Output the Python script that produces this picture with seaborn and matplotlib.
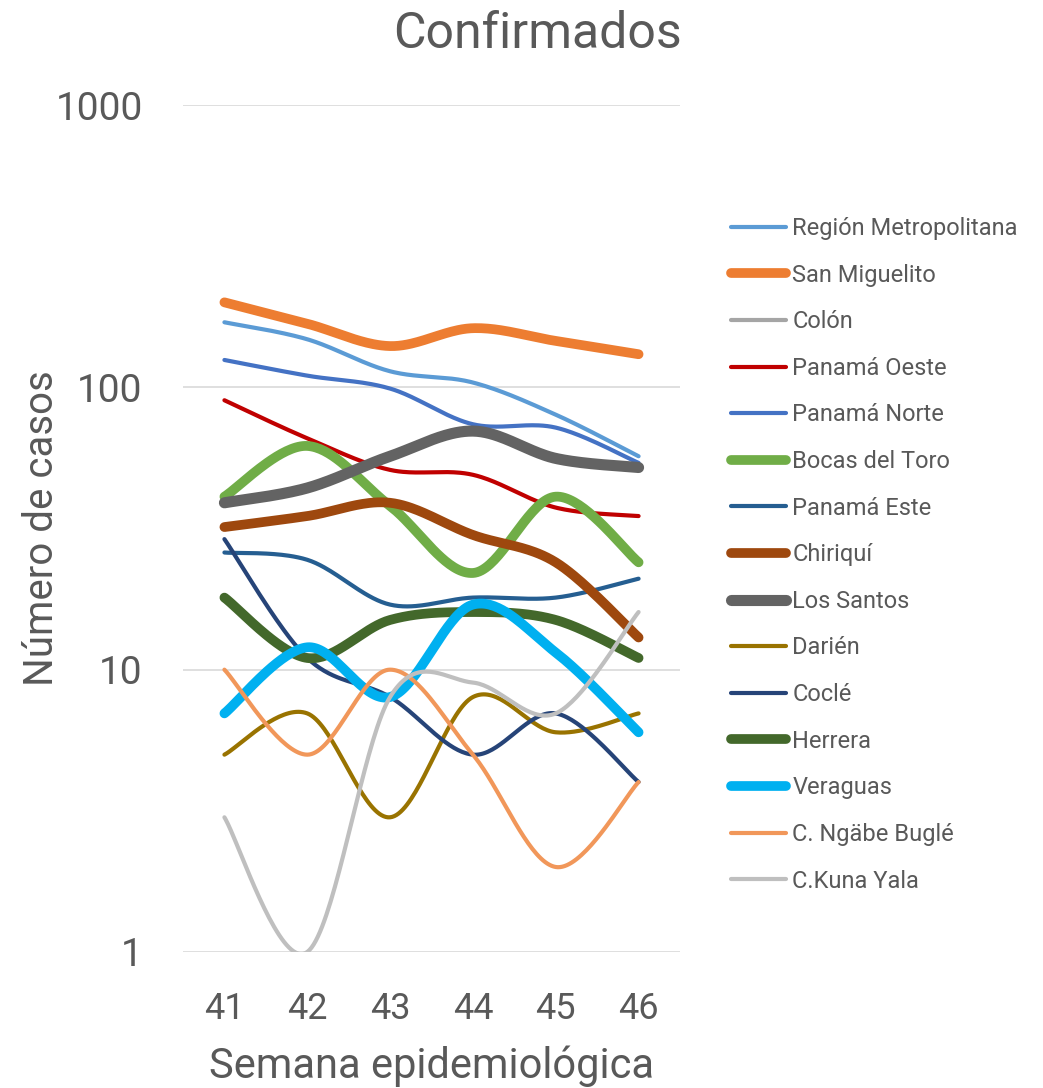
import numpy as np
import pandas as pd
import matplotlib
matplotlib.use("Agg")
import matplotlib.pyplot as plt
from matplotlib.lines import Line2D
import seaborn as sns

# ---------------- data ----------------
weeks = [41, 42, 43, 44, 45, 46]
series_names = ["Región Metropolitana", "San Miguelito", "Colón", "Panamá Oeste",
                "Panamá Norte", "Bocas del Toro", "Panamá Este", "Chiriquí",
                "Los Santos", "Darién", "Coclé", "Herrera", "Veraguas",
                "C. Ngäbe Buglé", "C.Kuna Yala"]
region_metropolitana = [170, 148, 114, 104, 80, 57]
san_miguelito = [200, 168, 140, 162, 146, 131]
colon = [np.nan, np.nan, np.nan, np.nan, np.nan, np.nan]
panama_oeste = [90, 66, 51, 49, 37.5, 35]
panama_norte = [125, 110, 99, 74, 72, 54]
bocas_del_toro = [41, 62, 38, 22, 41, 24]
panama_este = [26, 24.5, 17, 18, 18, 21]
chiriqui = [32, 35, 39, 30, 24, 13]
los_santos = [39, 44, 57, 70, 56, 52]
darien = [5, 7, 3, 8, 6, 7]
cocle = [29, 11, 8, 5, 7, 4]
herrera = [18, 11, 15, 16, 15, 11]
veraguas = [7, 12, 8, 17, 11.5, 6]
ngabe_bugle = [10, 5, 10, 5, 2, 4]
kuna_yala = [3, 1, 8, 9, 7, 16]
y_ticks = [1, 10, 100, 1000]
y_tick_labels = ["1", "10", "100", "1000"]

all_values = [region_metropolitana, san_miguelito, colon, panama_oeste, panama_norte,
              bocas_del_toro, panama_este, chiriqui, los_santos, darien, cocle,
              herrera, veraguas, ngabe_bugle, kuna_yala]

colors = ["#5B9BD5", "#ED7D31", "#A5A5A5", "#C00000", "#4472C4", "#70AD47",
          "#255E91", "#9E480E", "#636363", "#997300", "#264478", "#43682B",
          "#00B0F0", "#F1975A", "#BFBFBF"]
widths = [3, 7, 3, 3, 3, 7, 3, 7, 8, 3, 3, 7, 7, 3, 3]

TEXT = "#595959"


def smooth(xs, ys, n=40):
    """Excel-like smoothing: Catmull-Rom Bezier in (x, log10 y) space."""
    xs = np.asarray(xs, float)
    ly = np.log10(np.asarray(ys, float))
    P = np.column_stack([xs, ly])
    out = []
    m = len(P)
    for i in range(m - 1):
        p0 = P[i - 1] if i > 0 else P[i]
        p1, p2 = P[i], P[i + 1]
        p3 = P[i + 2] if i + 2 < m else P[i + 1]
        c1 = p1 + (p2 - p0) / 6.0
        c2 = p2 - (p3 - p1) / 6.0
        t = np.linspace(0, 1, n)[:, None]
        seg = ((1 - t) ** 3) * p1 + 3 * ((1 - t) ** 2) * t * c1 + 3 * (1 - t) * t ** 2 * c2 + t ** 3 * p2
        out.append(seg if i == 0 else seg[1:])
    pts = np.vstack(out)
    return pts[:, 0], 10 ** pts[:, 1]


sns.set_theme(style="white")
plt.rcParams["font.family"] = ["Roboto", "DejaVu Sans"]

fig = plt.figure(figsize=(10.43, 10.88), dpi=100)
ax = fig.add_axes([183 / 1043, 1 - 952 / 1088, (680 - 183) / 1043, (952 - 105) / 1088])

handles = []
for name, vals, c, lw in zip(series_names, all_values, colors, widths):
    v = np.asarray(vals, float)
    if not np.all(np.isnan(v)):
        sx, sy = smooth(weeks, v)
        df = pd.DataFrame({"x": sx, "y": sy})
        sns.lineplot(data=df, x="x", y="y", ax=ax, color=c, linewidth=lw,
                     sort=False, estimator=None, solid_capstyle="round")
    handles.append(Line2D([0], [0], color=c, lw=lw, solid_capstyle="round"))

ax.set_yscale("log")
ax.set_ylim(1, 1000)
ax.set_xlim(40.5, 46.5)
ax.set_yticks(y_ticks)
ax.set_yticklabels(y_tick_labels)
ax.yaxis.set_minor_locator(matplotlib.ticker.NullLocator())
ax.set_xticks(weeks)
ax.set_xticklabels([str(w) for w in weeks])
ax.grid(axis="y", color="#D9D9D9", linewidth=1.2)
ax.grid(axis="x", visible=False)
ax.set_axisbelow(True)
for s in ax.spines.values():
    s.set_visible(False)
ax.tick_params(axis="both", length=0, colors=TEXT)
ax.tick_params(axis="x", labelsize=26, pad=28)
ax.tick_params(axis="y", labelsize=28, pad=29)

ax.set_xlabel("Semana epidemiológica", fontsize=30, color=TEXT)
ax.xaxis.set_label_coords(0.5, -0.110)
ax.set_ylabel("Número de casos", fontsize=29, color=TEXT)
ax.yaxis.set_label_coords(-0.246, 0.5)

fig.text(537 / 1043, 1 - 34 / 1088, "Confirmados", ha="center", va="center",
         fontsize=36, color=TEXT)

leg = fig.legend(handles, series_names, loc="upper left",
                 bbox_to_anchor=(731 / 1043, 1 - 217 / 1088), frameon=False,
                 fontsize=17, handlelength=2.35, handletextpad=0.25,
                 labelspacing=1.0, borderaxespad=0, borderpad=0)
for t in leg.get_texts():
    t.set_color(TEXT)

fig.savefig("out.png", dpi=100)
